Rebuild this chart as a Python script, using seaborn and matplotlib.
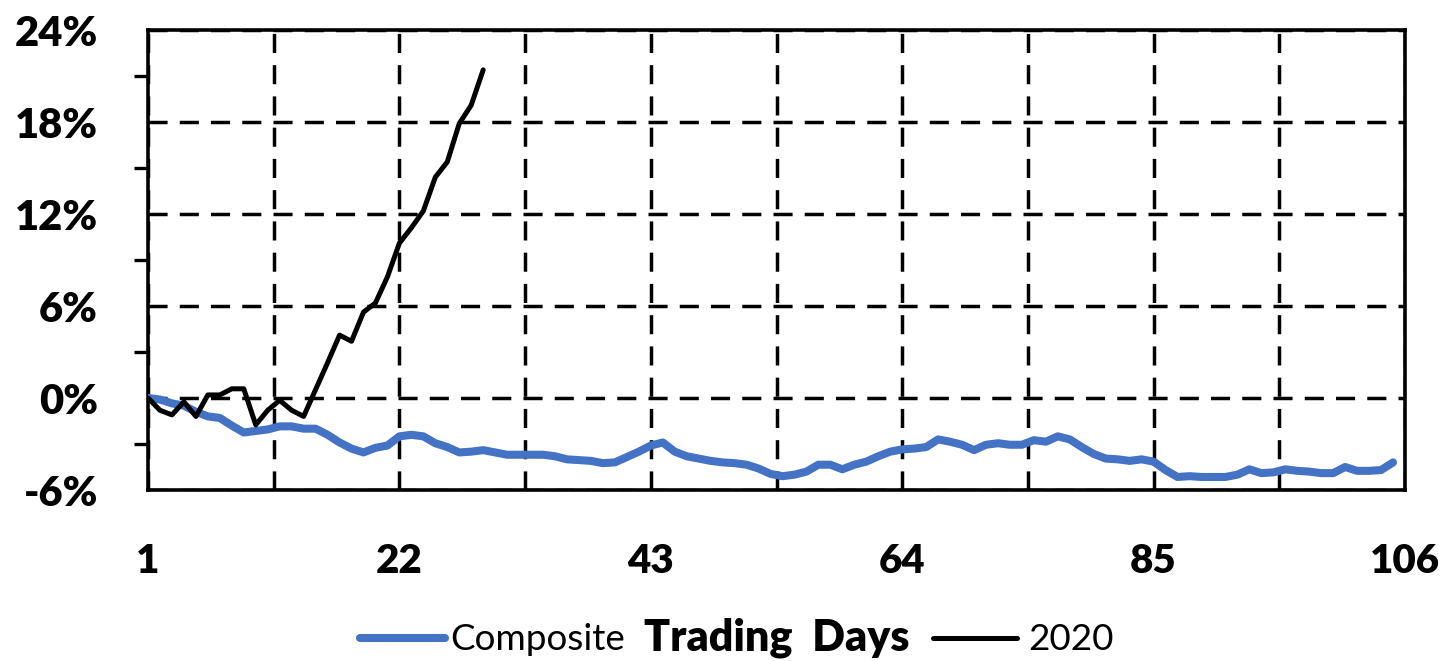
import numpy as np
import pandas as pd
import matplotlib
matplotlib.use("Agg")
import matplotlib.pyplot as plt
from matplotlib.lines import Line2D
from matplotlib.ticker import FixedLocator, FuncFormatter
import seaborn as sns

# ---- data (percent returns by trading day) ----
composite = [0, -0.1, -0.35, -0.5, -0.9, -1.2, -1.3, -1.8, -2.25, -2.15,
             -2.05, -1.85, -1.85, -2.0, -2.0, -2.4, -2.9, -3.3, -3.55, -3.25,
             -3.1, -2.5, -2.4, -2.5, -2.95, -3.2, -3.55, -3.5, -3.4, -3.55,
             -3.7, -3.7, -3.7, -3.7, -3.8, -4.0, -4.05, -4.1, -4.25, -4.2,
             -3.85, -3.5, -3.1, -2.9, -3.5, -3.8, -3.95, -4.1, -4.2, -4.25,
             -4.35, -4.6, -4.95, -5.1, -5.0, -4.8, -4.35, -4.35, -4.65, -4.35,
             -4.15, -3.8, -3.5, -3.35, -3.3, -3.2, -2.7, -2.85, -3.05, -3.4,
             -3.05, -2.95, -3.05, -3.05, -2.75, -2.85, -2.5, -2.7, -3.2, -3.65,
             -3.95, -4.0, -4.1, -4.0, -4.15, -4.7, -5.15, -5.1, -5.15, -5.15,
             -5.15, -5.0, -4.65, -4.9, -4.85, -4.65, -4.75, -4.8, -4.9, -4.9,
             -4.5, -4.75, -4.75, -4.7, -4.2]
y2020 = [0, -0.8, -1.1, -0.25, -1.2, 0.2, 0.2, 0.6, 0.6, -1.75,
         -0.8, -0.15, -0.8, -1.2, 0.55, 2.3, 4.1, 3.7, 5.6, 6.2,
         7.9, 10.1, 11.1, 12.2, 14.4, 15.4, 17.9, 19.1, 21.4]
x_tick_labels = [1, 22, 43, 64, 85, 106]
y_tick_values = [-6, 0, 6, 12, 18, 24]
series_names = ["Composite", "2020"]
x_title = "Trading  Days"

BLUE = "#4472C4"
BLACK = "#000000"

sns.set_style("white")
plt.rcParams["font.family"] = ["Lato", "DejaVu Sans"]
plt.rcParams.update({"text.color": "black", "axes.labelcolor": "black",
                     "xtick.color": "black", "ytick.color": "black"})

df_comp = pd.DataFrame({"day": list(range(1, len(composite) + 1)), "value": composite})
df_2020 = pd.DataFrame({"day": list(range(1, len(y2020) + 1)), "value": y2020})

W, H = 1443, 661
fig, ax = plt.subplots(figsize=(W / 100, H / 100), dpi=100)
fig.subplots_adjust(left=148 / W, right=1405 / W, top=1 - 30 / H, bottom=1 - 490 / H)

sns.lineplot(data=df_comp, x="day", y="value", ax=ax, color=BLUE, lw=5.8,
             legend=False, solid_joinstyle="round", solid_capstyle="round", zorder=3)
sns.lineplot(data=df_2020, x="day", y="value", ax=ax, color=BLACK, lw=3.6,
             legend=False, solid_joinstyle="round", solid_capstyle="round", zorder=4)

ax.set_xlim(x_tick_labels[0], x_tick_labels[-1])
ax.set_ylim(y_tick_values[0], y_tick_values[-1])

# ticks
ax.xaxis.set_major_locator(FixedLocator(x_tick_labels))
x_minor = [(a + b) / 2 for a, b in zip(x_tick_labels[:-1], x_tick_labels[1:])]
ax.xaxis.set_minor_locator(FixedLocator(x_minor))
ax.yaxis.set_major_locator(FixedLocator(y_tick_values))
y_minor = [(a + b) / 2 for a, b in zip(y_tick_values[:-1], y_tick_values[1:])]
ax.yaxis.set_minor_locator(FixedLocator(y_minor))
ax.yaxis.set_major_formatter(FuncFormatter(lambda v, p: f"{v:.0f}%"))
ax.xaxis.set_major_formatter(FuncFormatter(lambda v, p: f"{v:.0f}"))

ax.tick_params(axis="x", which="both", direction="inout", length=18, width=2.4,
               color="black", labelcolor="black", pad=29, labelsize=29)
ax.tick_params(axis="y", which="major", direction="inout", length=22, width=2.4,
               color="black", labelcolor="black", pad=25, labelsize=30)
ax.tick_params(axis="y", which="minor", direction="out", length=10, width=2.4,
               color="black", left=True)
for lab in ax.get_xticklabels() + ax.get_yticklabels():
    lab.set_fontweight("heavy")

# grid
ax.set_axisbelow(True)
grid_kw = dict(color="black", lw=2.5, linestyle=(0, (5.5, 3.5)))
ax.grid(True, which="both", axis="x", **grid_kw)
ax.grid(True, which="major", axis="y", **grid_kw)

for sp in ax.spines.values():
    sp.set_visible(True)
    sp.set_color("black")
    sp.set_linewidth(2.6)

ax.set_ylabel("")
ax.set_xlabel(x_title, fontsize=31, fontweight="heavy", color="black")
ax.xaxis.set_label_coords(0.5, (490 - 650) / 460)
ax.xaxis.label.set_va("baseline")

# legends split around axis title
y_leg = 1 - 640 / H
h1 = Line2D([], [], color=BLUE, lw=5.8, solid_capstyle="round")
h2 = Line2D([], [], color=BLACK, lw=3.6, solid_capstyle="round")
fig.legend(handles=[h1], labels=[series_names[0]], loc="center right",
           bbox_to_anchor=(625 / W, y_leg), frameon=False, fontsize=26.6,
           labelcolor="black",
           handlelength=2.3, handletextpad=0.14, borderpad=0, borderaxespad=0)
fig.legend(handles=[h2], labels=[series_names[1]], loc="center left",
           bbox_to_anchor=(933 / W, y_leg), frameon=False, fontsize=26.6,
           labelcolor="black",
           handlelength=2.27, handletextpad=0.3, borderpad=0, borderaxespad=0)

fig.savefig("out.png", dpi=100)
